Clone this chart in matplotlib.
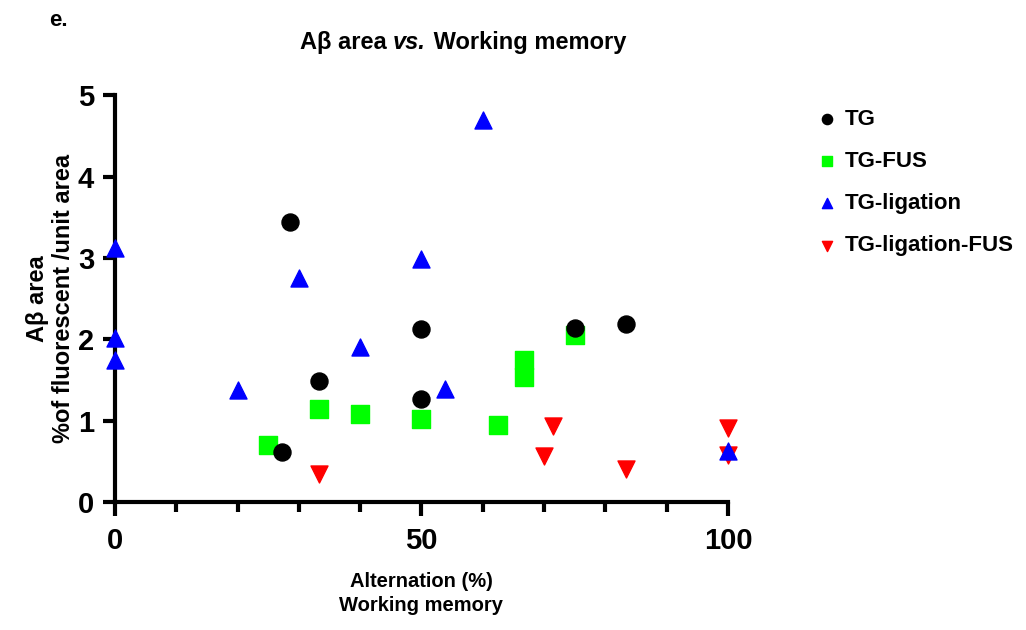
import matplotlib
matplotlib.use("Agg")
from matplotlib import pyplot as plt
from matplotlib.ticker import MultipleLocator

plt.rcParams['font.family'] = ['Liberation Sans', 'DejaVu Sans']
plt.rcParams['font.weight'] = 'bold'

# Alternation (%) vs A-beta area for each group
tg_x = [28.6, 50.0, 33.3, 50.0, 27.3, 75.0, 83.3]
tg_y = [3.44, 2.12, 1.49, 1.27, 0.61, 2.14, 2.19]

fus_x = [25.0, 33.3, 40.0, 50.0, 62.5, 66.7, 66.7, 75.0]
fus_y = [0.70, 1.14, 1.08, 1.02, 0.94, 1.74, 1.54, 2.05]

lig_x = [0.0, 0.0, 0.0, 20.0, 30.0, 40.0, 50.0, 53.8, 60.0, 100.0]
lig_y = [3.12, 2.02, 1.75, 1.38, 2.75, 1.90, 2.99, 1.39, 4.69, 0.63]

ligfus_x = [33.3, 71.4, 70.0, 83.3, 100.0, 100.0]
ligfus_y = [0.35, 0.93, 0.57, 0.40, 0.91, 0.58]

fig = plt.figure(figsize=(10.26, 6.30), dpi=100)
ax = fig.add_axes([0.112, 0.2032, 0.5976, 0.6458])

size = 150
ax.scatter(tg_x, tg_y, s=size, marker='o', color='black', label='TG', clip_on=False, zorder=3)
ax.scatter(fus_x, fus_y, s=size, marker='s', color='#00ff00', label='TG-FUS', clip_on=False, zorder=2)
ax.scatter(lig_x, lig_y, s=size, marker='^', color='#0000ff', label='TG-ligation', clip_on=False, zorder=4)
ax.scatter(ligfus_x, ligfus_y, s=size, marker='v', color='#ff0000', label='TG-ligation-FUS', clip_on=False, zorder=3)

ax.set_xlim(0, 100)
ax.set_ylim(0, 5)
for side in ['top', 'right']:
    ax.spines[side].set_visible(False)
for side in ['left', 'bottom']:
    ax.spines[side].set_linewidth(3)

ax.xaxis.set_major_locator(MultipleLocator(50))
ax.xaxis.set_minor_locator(MultipleLocator(10))
ax.yaxis.set_major_locator(MultipleLocator(1))
ax.tick_params(axis='both', which='major', length=10, width=3, labelsize=21, pad=8)
ax.tick_params(axis='x', which='minor', length=7, width=3)
ax.tick_params(axis='y', which='major', length=9, pad=6)

ax.set_xlabel('Alternation (%)\nWorking memory', fontsize=14.5, fontweight='bold',
              labelpad=12, linespacing=1.35)
ax.set_ylabel('Aβ area\n%of fluorescent /unit area', fontsize=17, fontweight='bold',
              labelpad=2, linespacing=1.15)

# title with italic "vs."
ty = 0.932
fig.text(0.383, ty, 'Aβ area ', fontsize=17, fontweight='bold', ha='right', va='center')
fig.text(0.383, ty, 'vs.', fontsize=17, fontweight='bold', style='italic', ha='left', va='center')
fig.text(0.416, ty, ' Working memory', fontsize=17, fontweight='bold', ha='left', va='center')
fig.text(0.048, 0.968, 'e.', fontsize=16, fontweight='bold', ha='left', va='center')

leg = ax.legend(loc='upper left', bbox_to_anchor=(1.11, 1.015), frameon=False,
                fontsize=16, markerscale=0.6, handletextpad=0.3,
                labelspacing=0.95, handlelength=1.0)

fig.savefig('out.png', dpi=100)
